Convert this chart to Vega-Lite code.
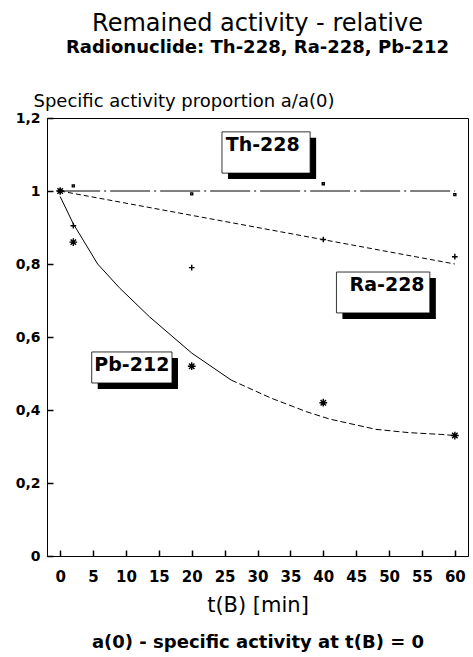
{
  "$schema": "https://vega.github.io/schema/vega-lite/v6.json",
  "width": 421,
  "height": 438,
  "autosize": "none",
  "padding": {"left": 47, "top": 118, "right": 5, "bottom": 101},
  "background": "white",
  "config": {
    "view": {"stroke": "black", "strokeWidth": 1},
    "font": "DejaVu Sans",
    "axis": {
      "grid": false,
      "labelFont": "DejaVu Sans",
      "labelFontWeight": "bold",
      "labelFontSize": 15,
      "labelColor": "black",
      "domainColor": "black",
      "tickColor": "black",
      "titleColor": "black",
      "titleFont": "DejaVu Sans",
      "titleFontWeight": "normal"
    }
  },
  "title": {
    "text": "Remained activity - relative",
    "subtitle": "Radionuclide: Th-228, Ra-228, Pb-212",
    "anchor": "middle",
    "frame": "group",
    "font": "DejaVu Sans",
    "fontSize": 24,
    "fontWeight": "normal",
    "color": "black",
    "subtitleFont": "DejaVu Sans",
    "subtitleFontSize": 18,
    "subtitleFontWeight": "bold",
    "subtitleColor": "black",
    "subtitlePadding": 3,
    "offset": 35
  },
  "datasets": {
    "curves": [
      {"series": "Th-228", "t": 0, "v": 1.0},
      {"series": "Th-228", "t": 60, "v": 1.0},
      {"series": "Ra-228", "t": 0, "v": 1.0},
      {"series": "Ra-228", "t": 60, "v": 0.80},
      {"series": "Pb-212", "t": 0, "v": 0.985},
      {"series": "Pb-212", "t": 2, "v": 0.91},
      {"series": "Pb-212", "t": 5.7, "v": 0.80},
      {"series": "Pb-212", "t": 9, "v": 0.735},
      {"series": "Pb-212", "t": 13.6, "v": 0.655},
      {"series": "Pb-212", "t": 20, "v": 0.556},
      {"series": "Pb-212", "t": 26, "v": 0.482},
      {"series": "Pb-212", "t": 32, "v": 0.433},
      {"series": "Pb-212", "t": 37.5, "v": 0.395},
      {"series": "Pb-212", "t": 41, "v": 0.375},
      {"series": "Pb-212", "t": 48, "v": 0.347},
      {"series": "Pb-212", "t": 53, "v": 0.338},
      {"series": "Pb-212", "t": 58, "v": 0.333},
      {"series": "Pb-212", "t": 60, "v": 0.33}
    ],
    "points": [
      {"series": "Th-228", "t": 0, "v": 1.0},
      {"series": "Th-228", "t": 2, "v": 1.014},
      {"series": "Th-228", "t": 20, "v": 0.992},
      {"series": "Th-228", "t": 40, "v": 1.02},
      {"series": "Th-228", "t": 60, "v": 0.99},
      {"series": "Ra-228", "t": 0, "v": 1.0},
      {"series": "Ra-228", "t": 2, "v": 0.905},
      {"series": "Ra-228", "t": 20, "v": 0.79},
      {"series": "Ra-228", "t": 40, "v": 0.867},
      {"series": "Ra-228", "t": 60, "v": 0.82},
      {"series": "Pb-212", "t": 0, "v": 1.0},
      {"series": "Pb-212", "t": 2, "v": 0.86},
      {"series": "Pb-212", "t": 20, "v": 0.52},
      {"series": "Pb-212", "t": 40, "v": 0.42},
      {"series": "Pb-212", "t": 60, "v": 0.33}
    ],
    "labels": [
      {"label": "Th-228", "t": 30.8, "v": 1.127, "tMin": 24.6, "tMax": 38.0, "vLow": 1.049, "vHigh": 1.162},
      {"label": "Ra-228", "t": 49.7, "v": 0.742, "tMin": 42.0, "tMax": 56.2, "vLow": 0.666, "vHigh": 0.778},
      {"label": "Pb-212", "t": 10.9, "v": 0.523, "tMin": 4.8, "tMax": 17.0, "vLow": 0.474, "vHigh": 0.559}
    ]
  },
  "layer": [
    {
      "data": {"name": "labels"},
      "mark": {"type": "rect", "fill": "black", "xOffset": 6, "x2Offset": 6, "yOffset": 6, "y2Offset": 6},
      "encoding": {
        "x": {
          "field": "tMin", "type": "quantitative",
          "scale": {"domain": [-2, 62], "nice": false, "zero": false},
          "axis": {
            "orient": "bottom",
            "values": [0, 5, 10, 15, 20, 25, 30, 35, 40, 45, 50, 55, 60],
            "tickSize": -6,
            "tickWidth": 1.5,
            "labelPadding": 19,
            "labelOverlap": false,
            "title": "t(B) [min]",
            "titleFontSize": 21,
            "titleBaseline": "middle",
            "titleY": 49
          }
        },
        "x2": {"field": "tMax"},
        "y": {
          "field": "vLow", "type": "quantitative",
          "scale": {"domain": [0, 1.2], "nice": false, "zero": false},
          "axis": {
            "values": [0, 0.2, 0.4, 0.6, 0.8, 1, 1.2],
            "format": "~g",
            "labelExpr": "replace(datum.label, '.', ',')",
            "tickSize": -6,
            "tickWidth": 1.5,
            "labelPadding": 13,
            "labelFontSize": 14,
            "labelOverlap": false,
            "title": "Specific activity proportion a/a(0)",
            "titleAngle": 0,
            "titleAlign": "left",
            "titleBaseline": "alphabetic",
            "titleX": -14,
            "titleY": -12,
            "titleFontSize": 18
          }
        },
        "y2": {"field": "vHigh"}
      }
    },
    {
      "data": {"name": "labels"},
      "mark": {"type": "rect", "fill": "white", "stroke": "black", "strokeWidth": 0.8},
      "encoding": {
        "x": {"field": "tMin", "type": "quantitative", "scale": {"domain": [-2, 62], "nice": false, "zero": false}, "axis": null},
        "x2": {"field": "tMax"},
        "y": {"field": "vLow", "type": "quantitative", "scale": {"domain": [0, 1.2], "nice": false, "zero": false}},
        "y2": {"field": "vHigh"}
      }
    },
    {
      "data": {"name": "curves"},
      "transform": [{"filter": "datum.series === 'Th-228'"}],
      "mark": {"type": "line", "stroke": "black", "strokeWidth": 1, "strokeDash": [40, 4, 2, 4]},
      "encoding": {
        "x": {"field": "t", "type": "quantitative", "scale": {"domain": [-2, 62], "nice": false, "zero": false}, "axis": null},
        "y": {"field": "v", "type": "quantitative", "scale": {"domain": [0, 1.2], "nice": false, "zero": false}}
      }
    },
    {
      "data": {"name": "curves"},
      "transform": [{"filter": "datum.series === 'Ra-228'"}],
      "mark": {"type": "line", "stroke": "black", "strokeWidth": 1, "strokeDash": [5, 3]},
      "encoding": {
        "x": {"field": "t", "type": "quantitative", "scale": {"domain": [-2, 62], "nice": false, "zero": false}, "axis": null},
        "y": {"field": "v", "type": "quantitative", "scale": {"domain": [0, 1.2], "nice": false, "zero": false}}
      }
    },
    {
      "data": {"name": "curves"},
      "transform": [{"filter": "datum.series === 'Pb-212' && datum.t <= 26"}],
      "mark": {"type": "line", "stroke": "black", "strokeWidth": 1},
      "encoding": {
        "x": {"field": "t", "type": "quantitative", "scale": {"domain": [-2, 62], "nice": false, "zero": false}, "axis": null},
        "y": {"field": "v", "type": "quantitative", "scale": {"domain": [0, 1.2], "nice": false, "zero": false}}
      }
    },
    {
      "data": {"name": "curves"},
      "transform": [{"filter": "datum.series === 'Pb-212' && datum.t >= 26"}],
      "mark": {"type": "line", "stroke": "black", "strokeWidth": 1, "strokeDash": [6, 3]},
      "encoding": {
        "x": {"field": "t", "type": "quantitative", "scale": {"domain": [-2, 62], "nice": false, "zero": false}, "axis": null},
        "y": {"field": "v", "type": "quantitative", "scale": {"domain": [0, 1.2], "nice": false, "zero": false}}
      }
    },
    {
      "data": {"name": "points"},
      "mark": {"type": "point", "filled": false, "stroke": "black", "strokeWidth": 1.4, "opacity": 1},
      "encoding": {
        "x": {"field": "t", "type": "quantitative", "scale": {"domain": [-2, 62], "nice": false, "zero": false}, "axis": null},
        "y": {"field": "v", "type": "quantitative", "scale": {"domain": [0, 1.2], "nice": false, "zero": false}},
        "shape": {
          "field": "series", "type": "nominal",
          "scale": {
            "domain": ["Th-228", "Ra-228", "Pb-212"],
            "range": ["M-1,-1L1,-1L1,1L-1,1Z", "M-1,0L1,0M0,-1L0,1", "M-1,0L1,0M0,-1L0,1M-0.7,-0.7L0.7,0.7M-0.7,0.7L0.7,-0.7"]
          },
          "legend": null
        },
        "size": {
          "field": "series", "type": "nominal",
          "scale": {"domain": ["Th-228", "Ra-228", "Pb-212"], "range": [4, 60, 100]},
          "legend": null
        }
      }
    },
    {
      "data": {"name": "labels"},
      "mark": {"type": "text", "font": "DejaVu Sans", "fontWeight": "bold", "fontSize": 19, "color": "black", "align": "center", "baseline": "middle"},
      "encoding": {
        "x": {
          "field": "t", "type": "quantitative",
          "scale": {"domain": [-2, 62], "nice": false, "zero": false},
          "axis": {
            "orient": "bottom",
            "labels": false,
            "ticks": false,
            "domain": false,
            "title": "a(0) - specific activity at t(B) = 0",
            "titleFontSize": 18,
            "titleFontWeight": "bold",
            "titleBaseline": "middle",
            "titleY": 86
          }
        },
        "y": {"field": "v", "type": "quantitative", "scale": {"domain": [0, 1.2], "nice": false, "zero": false}},
        "text": {"field": "label"}
      }
    }
  ],
  "resolve": {"axis": {"x": "independent"}}
}
